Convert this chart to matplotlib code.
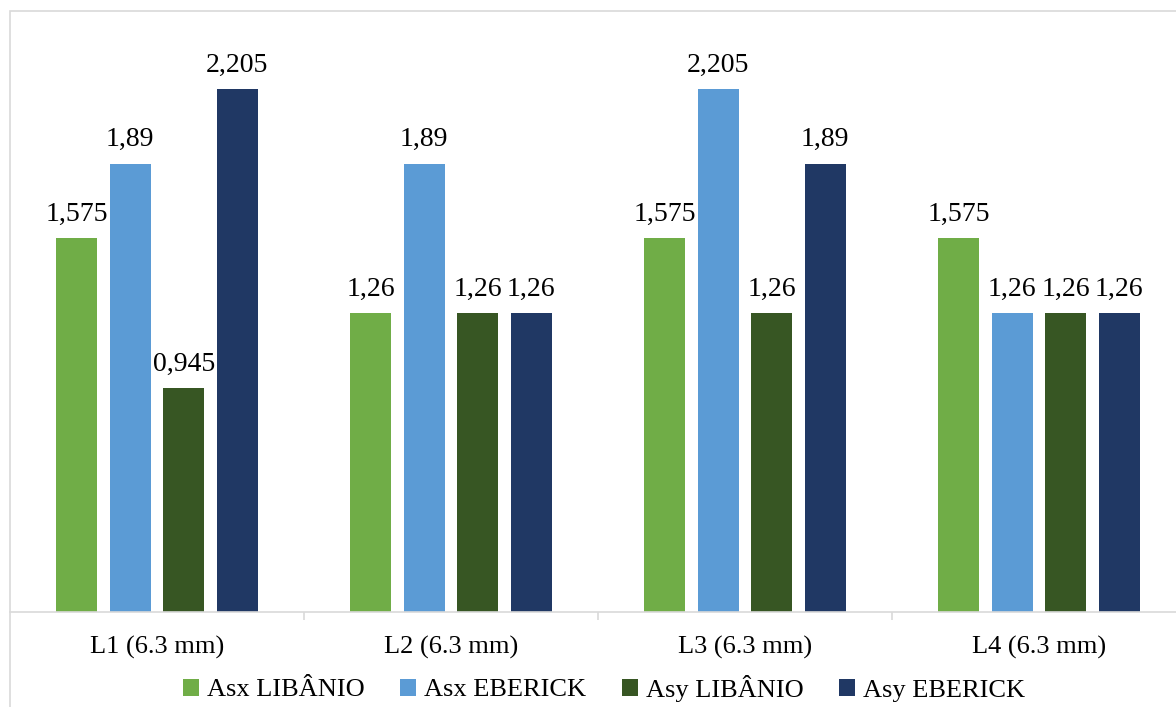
import matplotlib.pyplot as plt
from matplotlib.patches import Rectangle
import numpy as np

plt.rcParams['font.family'] = ['Liberation Serif', 'DejaVu Serif']

categories = ['L1 (6.3 mm)', 'L2 (6.3 mm)', 'L3 (6.3 mm)', 'L4 (6.3 mm)']
series = ['Asx LIBÂNIO', 'Asx EBERICK', 'Asy LIBÂNIO', 'Asy EBERICK']
asx_libanio = [1.575, 1.26, 1.575, 1.575]
asx_eberick = [1.89, 1.89, 2.205, 1.26]
asy_libanio = [0.945, 1.26, 1.26, 1.26]
asy_eberick = [2.205, 1.26, 1.89, 1.26]
colors = ['#70AD47', '#5B9BD5', '#375623', '#203864']

W, H = 1176, 707
fig = plt.figure(figsize=(W / 100, H / 100), dpi=100)
# plot area runs a little past the right edge of the canvas
ax = fig.add_axes([10 / W, (H - 612) / H, 1176 / W, 601 / H])

x = np.arange(len(categories)) + 0.5
width = 0.139
step = 0.182
data = [asx_libanio, asx_eberick, asy_libanio, asy_eberick]

for i, (vals, name, c) in enumerate(zip(data, series, colors)):
    bars = ax.bar(x + (i - 1.5) * step, vals, width, color=c, label=name)
    ax.bar_label(bars, labels=[f'{v:g}'.replace('.', ',') for v in vals],
                 padding=8, fontsize=20)

ax.set_xlim(0, 4)
ax.set_ylim(0, 601 / 237.3)
ax.set_yticks([])
for s in ['top', 'right', 'left']:
    ax.spines[s].set_visible(False)
ax.spines['bottom'].set_color('#D9D9D9')
ax.spines['bottom'].set_linewidth(1.2)

ax.set_xticks(x)
ax.set_xticklabels(categories, fontsize=19)
ax.tick_params(axis='x', which='major', length=0, pad=17)
ax.set_xticks([1, 2, 3], minor=True)
ax.tick_params(axis='x', which='minor', length=6, color='#D9D9D9', width=1.2)

fig.legend(loc='center', bbox_to_anchor=(604 / W, 1 - 688 / H), ncol=4,
           frameon=False, fontsize=19, handlelength=0.6, handleheight=0.6,
           handletextpad=0.3, columnspacing=1.35, borderaxespad=0)

# chart frame
fig.add_artist(Rectangle((10 / W, -0.1), 1.2, (H - 11) / H + 0.1,
                         transform=fig.transFigure, fill=False,
                         edgecolor='#D9D9D9', lw=1.2))

fig.savefig('out.png', dpi=100)
